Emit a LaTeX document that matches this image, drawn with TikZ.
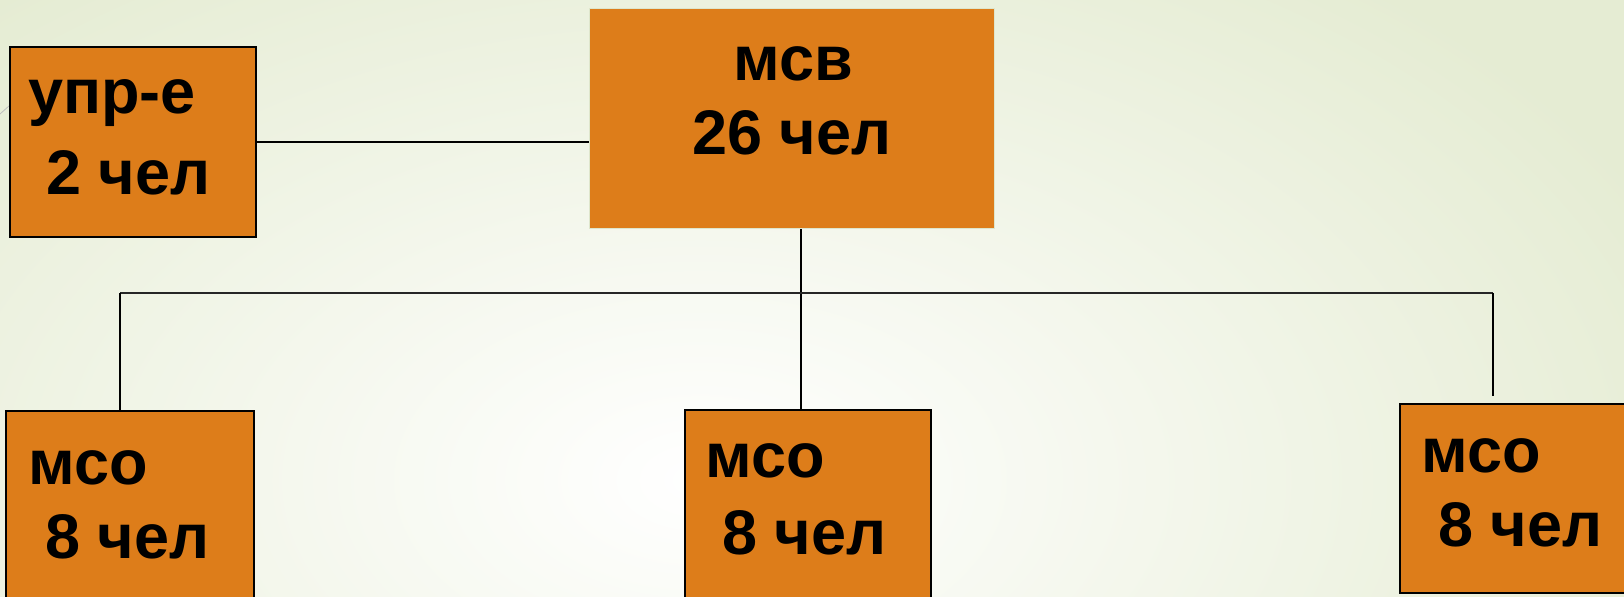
\documentclass[tikz,border=0pt]{standalone}
\usepackage{fontspec}
\setmainfont{Liberation Sans}
\definecolor{boxorange}{RGB}{221,125,26}
\definecolor{bggreen}{RGB}{229,236,211}
\definecolor{msvborder}{RGB}{222,230,204}
\begin{document}
\begin{tikzpicture}[x=0.5pt,y=-0.5pt,
  box/.style={draw=black, line width=0.8pt, fill=boxorange, rectangle, inner sep=0pt, anchor=north west},
  lbl/.style={anchor=base west, inner sep=0pt, text=black, font=\fontsize{31.5}{38}\selectfont\bfseries},
  conn/.style={draw=black, line width=0.75pt},
  busline/.style={draw=black!85, line width=1pt}]
\useasboundingbox (0,0) rectangle (1624,597);
\shade[inner color=white, outer color=bggreen] (-360,-160) rectangle (1760,1120);
\draw[black!25, line width=0.4pt] (0,114) -- (9,106);
% boxes
\node[box, minimum width=123pt, minimum height=95pt] (upr) at (9,46) {};
\node[box, draw=msvborder, line width=0.6pt, minimum width=202.5pt, minimum height=110pt] (msv) at (589,8) {};
\node[box, minimum width=124pt, minimum height=125pt] (msoA) at (5,410) {};
\node[box, minimum width=123pt, minimum height=125pt] (msoB) at (684,409) {};
\node[box, minimum width=125pt, minimum height=94.5pt] (msoC) at (1399,403) {};
% texts
\node[lbl] (t1) at (28,114) {упр-е};
\node[lbl] (t2) at (46,195) {2 чел};
\node[lbl, anchor=base] (t3) at (793,81) {мсв};
\node[lbl] (t4) at (692,155) {26 чел};
\node[lbl] (t5) at (28,485) {мсо};
\node[lbl] (t6) at (45,559) {8 чел};
\node[lbl] (t7) at (705,478) {мсо};
\node[lbl] (t8) at (722,555) {8 чел};
\node[lbl] (t9) at (1421,473) {мсо};
\node[lbl] (t10) at (1438,547) {8 чел};
% connectors
\coordinate (busM) at (801,293);
\coordinate (busL) at (120,293);
\coordinate (busR) at (1493,293);
\coordinate (rEnd) at (1493,396);
\draw[conn] (upr.east) -- (upr.east -| msv.west);
\draw[conn] (msv.south -| busM) -- (msoB.north -| busM);
\draw[busline] (busL) -- (busR);
\draw[conn] (busL) -- (busL |- msoA.north);
\draw[conn] (busR) -- (rEnd);
\end{tikzpicture}
\end{document}
